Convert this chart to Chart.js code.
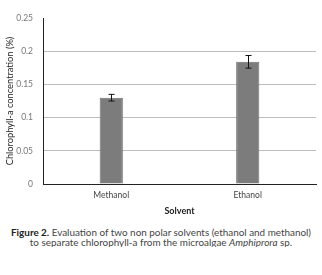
<!DOCTYPE html>
<html lang="en">
<head>
    <meta charset="UTF-8">
    <title>Chlorophyll-a by solvent</title>
    <script src="https://cdn.jsdelivr.net/npm/chart.js"></script>
    <style>
        body { margin: 0; background: #fff; }
        #wrap { width: 322px; height: 220px; }
        #caption {
            width: 322px;
            margin-top: 7px;
            text-align: center;
            font-family: 'Lato', sans-serif;
            font-size: 9.9px;
            line-height: 10px;
            color: #444;
            white-space: nowrap;
        }
        #caption b { color: #222; font-weight: 700; }
    </style>
</head>
<body>
    <div id="wrap"><canvas id="myChart" width="322" height="220"></canvas></div>
    <div id="caption"><b>Figure 2.</b> Evaluation of two non polar solvents (ethanol and methanol)<br>to separate chlorophyll-a from the microalgae <i>Amphiprora</i> sp.</div>
    <script>
        const ctx = document.getElementById('myChart').getContext('2d');

        // Data
        const solvents = ['Methanol', 'Ethanol'];
        const concentration = [0.130, 0.184];
        const stdError = [0.005, 0.0095];
        const yTicks = [0, 0.05, 0.1, 0.15, 0.2, 0.25];

        // error bars drawn through the y scale
        const errorBars = {
            id: 'errorBars',
            afterDatasetsDraw(chart) {
                const c = chart.ctx;
                const y = chart.scales.y;
                const meta = chart.getDatasetMeta(0);
                c.save();
                c.strokeStyle = '#111';
                c.lineWidth = 1;
                meta.data.forEach((bar, i) => {
                    const x = Math.round(bar.x) + 0.5;
                    const top = y.getPixelForValue(concentration[i] + stdError[i]);
                    const bot = y.getPixelForValue(concentration[i] - stdError[i]);
                    c.beginPath();
                    c.moveTo(x, top); c.lineTo(x, bot);
                    c.moveTo(x - 3, top); c.lineTo(x + 3, top);
                    c.moveTo(x - 3, bot); c.lineTo(x + 3, bot);
                    c.stroke();
                });
                c.restore();
            }
        };

        const chart = new Chart(ctx, {
            type: 'bar',
            data: {
                labels: solvents,
                datasets: [{
                    data: concentration,
                    backgroundColor: '#7c7c7c',
                    borderColor: '#707070',
                    borderWidth: 1,
                    barPercentage: 0.34,
                    categoryPercentage: 0.5
                }]
            },
            options: {
                responsive: false,
                animation: false,
                layout: { padding: { top: 18, right: 6, left: 0, bottom: 0 } },
                plugins: {
                    legend: { display: false },
                    tooltip: { enabled: false }
                },
                scales: {
                    x: {
                        grid: { display: false, drawTicks: false },
                        border: { color: '#222', width: 1 },
                        ticks: {
                            color: '#444',
                            padding: 6,
                            font: { family: 'Lato', size: 8.5 }
                        },
                        title: {
                            display: true,
                            text: 'Solvent',
                            color: '#222',
                            padding: { top: 4 },
                            font: { family: 'Lato', size: 9, weight: 'bold' }
                        },
                        afterFit(scale) { scale.height = 36; }
                    },
                    y: {
                        min: 0,
                        max: 0.25,
                        afterBuildTicks(scale) {
                            scale.ticks = yTicks.map(v => ({ value: v }));
                        },
                        grid: {
                            drawTicks: false,
                            color: ctx => (ctx.tick && ctx.tick.value > 0 && ctx.tick.value < 0.25) ? '#bdbdbd' : 'rgba(0,0,0,0)'
                        },
                        border: { color: '#222', width: 1 },
                        ticks: {
                            color: '#777',
                            padding: 10,
                            font: { family: 'Lato', size: 8.5 },
                            callback: v => String(v)
                        },
                        title: {
                            display: true,
                            text: 'Chlorophyll-a concentration (%)',
                            color: '#222',
                            padding: { bottom: 2 },
                            font: { family: 'Lato', size: 9.3 }
                        },
                        afterFit(scale) { scale.width = 43; }
                    }
                }
            },
            plugins: [errorBars]
        });
    </script>
</body>
</html>
